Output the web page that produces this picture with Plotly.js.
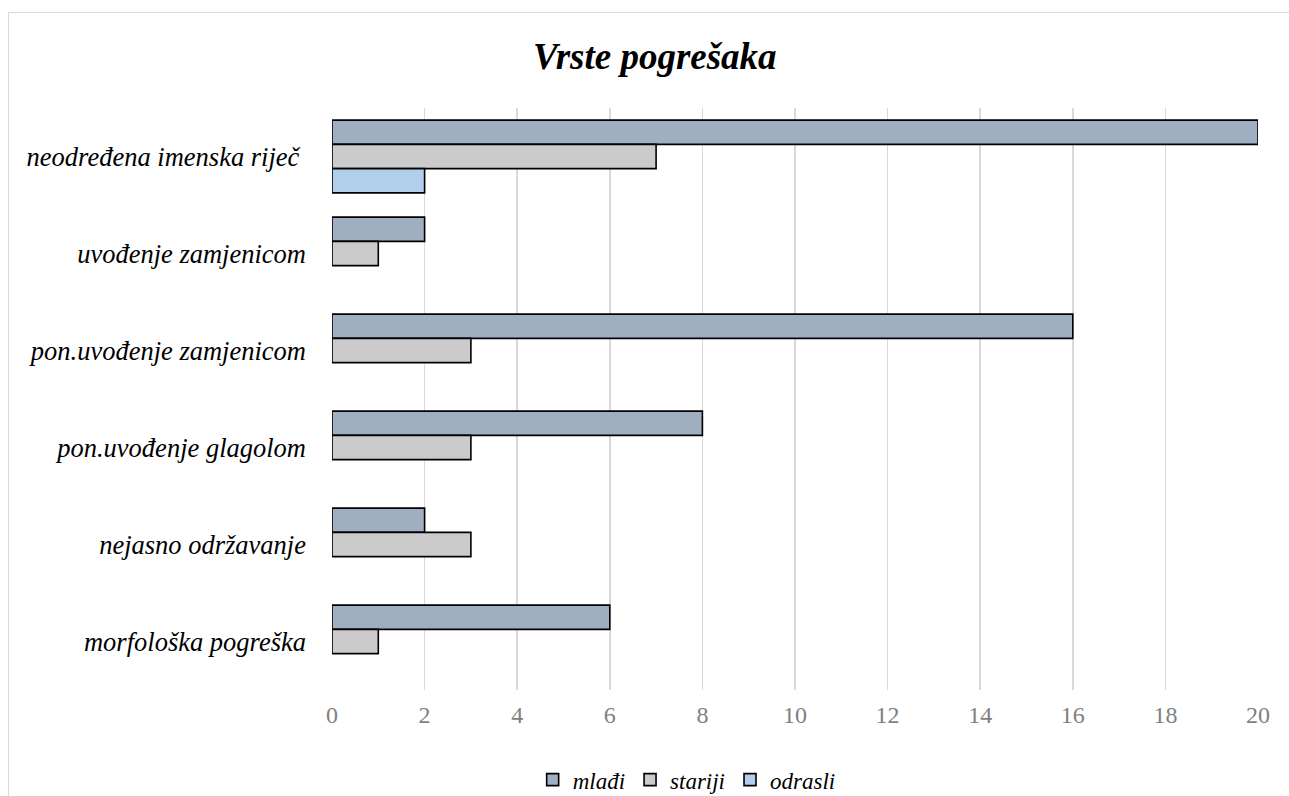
<!DOCTYPE html>
<html>
<head>
<meta charset="utf-8">
<script src="https://cdn.plot.ly/plotly-3.0.1.min.js"></script>
<style>
html,body{margin:0;padding:0;background:#fff;overflow:hidden;}
#chart{width:1289px;height:796px;}
#frame{position:absolute;left:8px;top:12px;width:1300px;height:800px;border:1.5px solid #d9d9d9;pointer-events:none;}
</style>
</head>
<body>
<div id="chart"></div>
<div id="frame"></div>
<script>
const categories = ["neodređena imenska riječ ", "uvođenje zamjenicom", "pon.uvođenje zamjenicom", "pon.uvođenje glagolom", "nejasno održavanje", "morfološka pogreška"];
const mladji = [20, 2, 16, 8, 2, 6];
const stariji = [7, 1, 3, 3, 3, 1];
const odrasli = [2, 0, 0, 0, 0, 0];
const seriesNames = ["mlađi", "stariji", "odrasli"];
const xTicks = [0, 2, 4, 6, 8, 10, 12, 14, 16, 18, 20];

const serif = "Liberation Serif, Times New Roman, serif";
const colors = ["#A0AEC2", "#CBCBCB", "#B1CEEA"];
const allVals = [mladji, stariji, odrasli];
const traces = allVals.map((v, i) => ({
  type: "bar",
  orientation: "h",
  name: seriesNames[i],
  x: v,
  y: categories,
  marker: {color: colors[i], line: {color: "#000", width: v.map(d => d === 0 ? 0 : 1.6)}},
  hoverinfo: "x+y+name"
}));

const layout = {
  width: 1289, height: 796,
  margin: {l: 332, r: 31, t: 108, b: 106, autoexpand: false},
  paper_bgcolor: "#fff", plot_bgcolor: "#fff",
  barmode: "group", bargap: 0.25, bargroupgap: 0,
  title: {text: "<b><i>Vrste pogrešaka</i></b>", x: 0.508, xanchor: "center", y: 0.93, yanchor: "middle",
          font: {family: serif, size: 37, color: "#000"}},
  xaxis: {range: [0, 20], tickvals: xTicks, ticktext: xTicks.map(String),
          showgrid: true, gridcolor: "#d9d9d9", gridwidth: 1.5, zeroline: false,
          showline: false, ticks: "", ticklen: 0, ticklabelstandoff: 8,
          tickfont: {family: serif, size: 24, color: "#7f7f7f"}},
  yaxis: {type: "category", autorange: "reversed", showgrid: false, zeroline: false,
          showline: false, ticks: "", ticklabelstandoff: 25,
          tickfont: {family: serif, size: 26.5, color: "#000", style: "italic"}},
  legend: {orientation: "h", x: 0.383, xanchor: "center", y: -0.154, yanchor: "middle",
           font: {family: serif, size: 23, color: "#000", style: "italic"},
           traceorder: "normal", itemwidth: 30},
  showlegend: true
};

Plotly.newPlot("chart", traces, layout, {displayModeBar: false, staticPlot: true});
</script>
</body>
</html>
